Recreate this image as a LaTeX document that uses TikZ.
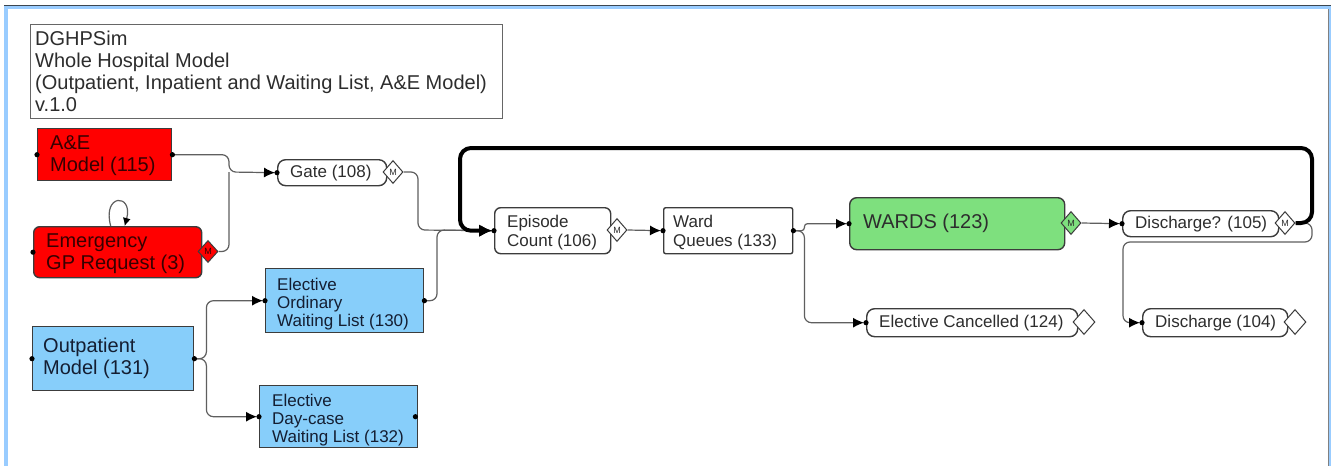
\documentclass[tikz,border=0pt]{standalone}
\usepackage{fontspec}
\setmainfont{Liberation Sans}
\usetikzlibrary{arrows.meta,shapes.geometric}
\definecolor{frameblue}{RGB}{153,204,255}
\definecolor{framedark}{RGB}{60,70,80}
\definecolor{boxred}{RGB}{255,0,0}
\definecolor{boxblue}{RGB}{135,206,250}
\definecolor{boxgreen}{RGB}{126,224,126}
\definecolor{edgegray}{RGB}{60,60,60}
\definecolor{linegray}{RGB}{95,95,95}
\definecolor{txtgray}{RGB}{45,45,45}
\definecolor{txtred}{RGB}{55,0,0}
\definecolor{txtblue}{RGB}{20,30,50}
\begin{document}
\begin{tikzpicture}[x=1pt,y=-1pt,
  box/.style={draw=edgegray, line width=1.4pt, inner sep=0pt, anchor=north west},
  lbl/.style={anchor=west, inner sep=0pt, align=left, text=txtgray},
  big/.style={font=\fontsize{20}{22}\selectfont},
  small/.style={font=\fontsize{17}{18}\selectfont},
  mdia/.style={diamond, draw=edgegray, line width=1pt, fill=white, minimum width=20pt, minimum height=23pt, inner sep=0pt, font=\fontsize{9}{9}\selectfont, text=txtgray},
  conn/.style={draw=linegray, line width=1.2pt, rounded corners=7pt},
  tip/.style={-{Latex[black,length=11pt,width=10pt]}, shorten >=2pt},
  thickc/.style={draw=black, line width=4pt, rounded corners=11pt, -{Latex[length=13pt,width=13pt]}, shorten >=2pt}
]
\useasboundingbox (0,0) rectangle (1331,466);
% window frame
\fill[white] (8,9) rectangle (1329,466);
\fill[frameblue] (4,5) rectangle (8,466);
\fill[frameblue] (4,5) rectangle (1331,9);
\fill[frameblue] (1329,9) rectangle (1331,466);
\draw[framedark, line width=1pt] (4,5) -- (1331,5);
\draw[gray, line width=0.8pt] (1328.6,9) -- (1328.6,466);

% title
\node[box, draw=gray!80!black, fill=white, minimum width=472pt, minimum height=94pt] (title) at (30,24) {};
\node[lbl, big, text=txtgray] (titleT) at ([xshift=5pt]title.west) {DGHPSim\\Whole Hospital Model\\(Outpatient, Inpatient and Waiting List, A\&E Model)\\v.1.0};

% red boxes
\node[box, fill=boxred, minimum width=134pt, minimum height=52pt] (ae) at (37,128) {};
\node[lbl, big, text=txtred] (aeT) at ([xshift=13pt,yshift=-1pt]ae.west) {A\&E\\Model (115)};
\node[box, fill=boxred, rounded corners=6pt, minimum width=168pt, minimum height=51pt] (em) at (33,226) {};
\node[lbl, big, text=txtred] (emT) at ([xshift=13pt,yshift=-1pt]em.west) {Emergency\\GP Request (3)};

% blue boxes
\node[box, fill=boxblue, minimum width=161pt, minimum height=64pt] (op) at (32,326) {};
\node[lbl, big, text=txtblue] (opT) at ([xshift=11pt]op.west) {Outpatient\\Model (131)};
\node[box, fill=boxblue, minimum width=158pt, minimum height=64pt] (eo) at (265,268) {};
\node[lbl, small, text=txtblue] (eoT) at ([xshift=12pt,yshift=-3pt]eo.west) {Elective\\Ordinary\\Waiting List (130)};
\node[box, fill=boxblue, minimum width=158pt, minimum height=62pt] (ed) at (259,385) {};
\node[lbl, small, text=txtblue] (edT) at ([xshift=13pt,yshift=-3pt]ed.west) {Elective\\Day-case\\Waiting List (132)};

% white process boxes
\node[box, fill=white, rounded corners=8pt, minimum width=109pt, minimum height=26pt] (gate) at (277,159) {};
\node[lbl, small] (gateT) at ([xshift=13pt]gate.west) {Gate (108)};
\node[box, fill=white, rounded corners=6pt, minimum width=116pt, minimum height=46pt] (epi) at (494,207) {};
\node[lbl, font=\fontsize{17}{19}\selectfont] (epiT) at ([xshift=13pt,yshift=-2pt]epi.west) {Episode\\Count (106)};
\node[box, fill=white, rounded corners=2pt, minimum width=129pt, minimum height=46pt] (wq) at (663,207) {};
\node[lbl, font=\fontsize{17}{19}\selectfont] (wqT) at ([xshift=10pt,yshift=-2pt]wq.west) {Ward\\Queues (133)};
\node[box, fill=boxgreen, rounded corners=7pt, minimum width=215pt, minimum height=52pt] (wards) at (849,197) {};
\node[lbl, font=\fontsize{20}{22}\selectfont, text=txtgray] (wardsT) at ([xshift=14pt]wards.west) {WARDS (123)};
\node[box, fill=white, rounded corners=8pt, minimum width=156pt, minimum height=26pt] (dq) at (1122,210) {};
\node[lbl, small] (dqT) at ([xshift=13pt]dq.west) {Discharge? (105)};
\node[box, fill=white, rounded corners=8pt, minimum width=211pt, minimum height=28pt] (ec) at (866,308) {};
\node[lbl, small] (ecT) at ([xshift=13pt]ec.west) {Elective Cancelled (124)};
\node[box, fill=white, rounded corners=8pt, minimum width=145pt, minimum height=28pt] (dc) at (1142,308) {};
\node[lbl, small] (dcT) at ([xshift=13pt]dc.west) {Discharge (104)};

% diamonds
\node[mdia, fill=boxred, text=txtred, minimum width=20pt, minimum height=22pt] (emd) at (208,251.5) {M};
\node[mdia] (gated) at (393,172) {M};
\node[mdia] (epid) at (617,230) {M};
\node[mdia, fill=boxgreen] (wardsd) at (1071,223) {M};
\node[mdia] (dqd) at (1285,223) {M};
\node[mdia, minimum width=22pt, minimum height=25pt] (ecd) at (1084,322) {};
\node[mdia, minimum width=22pt, minimum height=25pt] (dcd) at (1295,322) {};

% junction coordinates
\coordinate (jg) at (229,172);
\coordinate (je) at (418,230);
\coordinate (jo) at (437,230);
\coordinate (loopR) at (1312,148);
\coordinate (loopL) at (460,148);
\coordinate (dR) at (1312,242);
\coordinate (dL) at (1123,242);

% connectors
\draw[conn, tip] (ae.east) -| (jg) -- (gate.west);
\draw[conn] (emd.east) -| (jg);
\draw[conn] (eo.east) -| (jo) -- (epi.west);
\draw[conn, tip] (gated.east) -| (je) -- (epi.west);
\draw[conn, tip] (epid.east) -- (wq.west);
\draw[conn, tip, rounded corners=3pt] (wq.east) -- ++(11,0) |- (wards.west);
\draw[conn, tip] (wq.east) -- ++(11,0) |- (ec.west);
\draw[conn, tip] (wardsd.east) -- (dq.west);
\draw[conn, tip] (dqd.east) -| (dR) -- (dL) |- (dc.west);
\draw[conn, tip] (op.east) -- ++(12,0) |- (eo.west);
\draw[conn, tip] (op.east) -- ++(12,0) |- (ed.west);
\draw[conn, rounded corners=0pt, -{Latex[black,length=8pt,width=8pt]}] (em) to[out=105, in=75, min distance=34pt] (em);
\draw[thickc] (dqd.east) -| (loopR) -- (loopL) |- (epi.west);

% ports
\foreach \p in {ae.west, ae.east, em.west, op.west, op.east, eo.west, eo.east, ed.west, gate.west, epi.west, wq.west, wq.east, wards.west, dq.west, ec.west, dc.west}
  \fill[black] (\p) circle (2.6pt);
\fill[black] ([xshift=-3pt]ed.east) circle (2.6pt);
\end{tikzpicture}
\end{document}
